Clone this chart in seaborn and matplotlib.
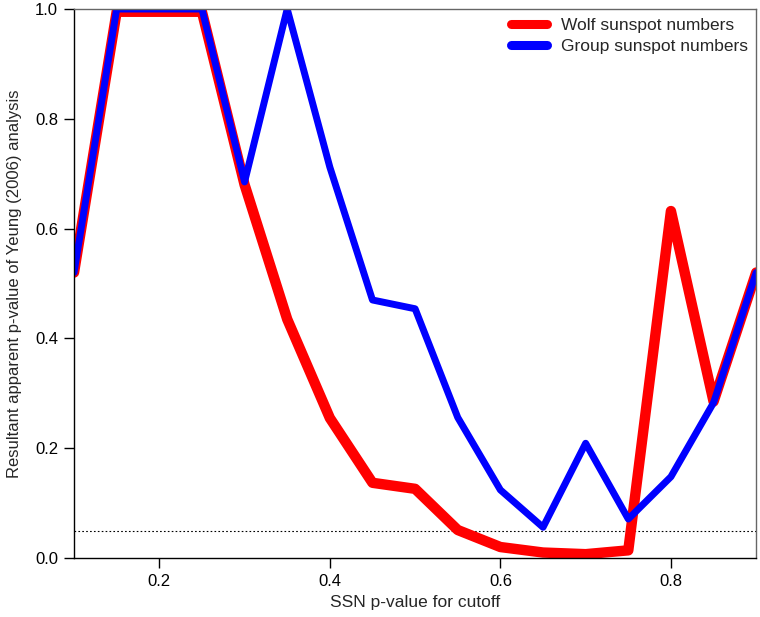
import numpy as np
import pandas as pd
import matplotlib
matplotlib.use('Agg')
import matplotlib.pyplot as plt
import seaborn as sns
from matplotlib.lines import Line2D

# SSN p-value cutoffs and the resulting p-values
cutoff = [0.10, 0.15, 0.20, 0.25, 0.30, 0.35, 0.40, 0.45, 0.50,
          0.55, 0.60, 0.65, 0.70, 0.75, 0.80, 0.85, 0.90]
wolf = [0.52, 0.995, 0.995, 0.995, 0.68, 0.435, 0.255, 0.137, 0.126,
        0.051, 0.020, 0.010, 0.007, 0.014, 0.632, 0.285, 0.52]
group = [0.52, 1.0, 1.0, 1.0, 0.685, 1.0, 0.712, 0.47, 0.454,
         0.256, 0.124, 0.056, 0.209, 0.071, 0.148, 0.283, 0.52]
series_names = ['Wolf sunspot numbers', 'Group sunspot numbers']
xtick_vals = [0.2, 0.4, 0.6, 0.8]
ytick_vals = [0.0, 0.2, 0.4, 0.6, 0.8, 1.0]

df = pd.concat([
    pd.DataFrame({'cutoff': cutoff, 'p': wolf, 'series': series_names[0]}),
    pd.DataFrame({'cutoff': cutoff, 'p': group, 'series': series_names[1]}),
])

sns.set_style('ticks')
plt.rcParams['font.family'] = ['Liberation Sans', 'DejaVu Sans']

fig = plt.figure(figsize=(7.6, 6.17), dpi=100)
ax = fig.add_axes([0.0974, 0.0956, 0.8976, 0.8898])

ax.axhline(0.05, color='black', linestyle=(0, (1.5, 2)), linewidth=0.8, zorder=1)

sns.lineplot(data=df, x='cutoff', y='p', hue='series',
             palette={series_names[0]: '#ff0000', series_names[1]: '#0000ff'},
             ax=ax, legend=False, estimator=None, sort=False)
ax.lines[1].set_linewidth(7.5)
ax.lines[2].set_linewidth(5)
for ln in ax.lines[1:]:
    ln.set_solid_capstyle('round')
    ln.set_solid_joinstyle('round')

ax.set_xlim(0.1, 0.9)
ax.set_ylim(0, 1.0)
ax.set_xticks(xtick_vals)
ax.set_xticklabels([f'{v:.1f}' for v in xtick_vals])
ax.set_yticks(ytick_vals)
ax.set_yticklabels([f'{v:.1f}' for v in ytick_vals])
ax.tick_params(labelsize=12, length=7.5, width=1, direction='out',
               colors='black', pad=4)

for side in ['left', 'bottom']:
    ax.spines[side].set_color('black')
    ax.spines[side].set_linewidth(1)
for side in ['top', 'right']:
    ax.spines[side].set_visible(True)
    ax.spines[side].set_color('#666666')
    ax.spines[side].set_linewidth(1)

ax.set_xlabel('SSN p-value for cutoff', fontsize=12.5, labelpad=4)
ax.set_ylabel('Resultant apparent p-value of Yeung (2006) analysis',
              fontsize=12, labelpad=9)

handles = [Line2D([0], [0], color='#ff0000', lw=6.5, solid_capstyle='round'),
           Line2D([0], [0], color='#0000ff', lw=6.5, solid_capstyle='round')]
ax.legend(handles, series_names, loc='upper right', frameon=False,
          fontsize=12.5, handlelength=2.1, handletextpad=0.75,
          borderaxespad=0.2, borderpad=0.3, labelspacing=0.35)

fig.savefig('out.png', dpi=100)
